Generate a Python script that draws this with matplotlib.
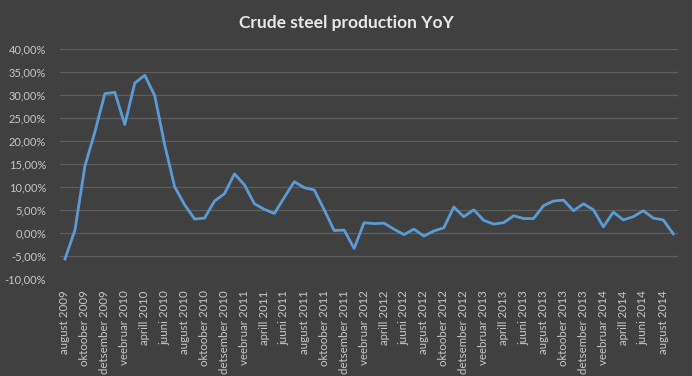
import matplotlib
matplotlib.use('Agg')
import matplotlib.pyplot as plt
import numpy as np

# monthly YoY change, august 2009 .. september 2014
months = ['jaanuar', 'veebruar', 'märts', 'aprill', 'mai', 'juuni',
          'juuli', 'august', 'september', 'oktoober', 'november', 'detsember']
start_month = 7  # august (0-based)
start_year = 2009

yoy = [-5.6, 0.7, 14.6, 22.0, 30.3, 30.6, 23.6, 32.6, 34.3, 29.9,
       19.2, 10.1, 6.2, 3.1, 3.3, 7.0, 8.6, 12.9, 10.5, 6.4,
       5.2, 4.3, 7.8, 11.2, 9.9, 9.4, 5.1, 0.6, 0.7, -3.3,
       2.3, 2.1, 2.2, 0.9, -0.3, 0.9, -0.6, 0.5, 1.2, 5.7,
       3.6, 5.1, 2.8, 2.0, 2.3, 3.8, 3.2, 3.2, 6.0, 7.0,
       7.2, 4.9, 6.4, 5.1, 1.4, 4.6, 2.9, 3.6, 4.9, 3.3,
       2.9, -0.1]

labels = []
for i in range(len(yoy)):
    m = (start_month + i) % 12
    y = start_year + (start_month + i) // 12
    labels.append(f'{months[m]} {y}')

bg = '#404040'
txt = '#c4c8cc'

plt.rcParams['font.family'] = ['Lato', 'DejaVu Sans']

fig = plt.figure(figsize=(6.92, 3.76), dpi=100, facecolor=bg)
ax = fig.add_axes([0.0867, 0.257, 0.8933, 0.6127], facecolor=bg)

x = np.arange(len(yoy))
ax.plot(x, yoy, color='#5b9bd5', linewidth=2.0, solid_joinstyle='round')

ax.set_xlim(-0.5, len(yoy) - 0.5)
ax.set_ylim(-10, 40)
yt = np.arange(-10, 41, 5)
ax.set_yticks(yt)
ax.set_yticklabels([f'{v:.2f}%'.replace('.', ',') for v in yt], color=txt, fontsize=8)
for v in yt[1:]:
    ax.axhline(v, color='#5e5e5e', linewidth=0.9, zorder=0)

ax.set_xticks(x[::2])
ax.set_xticklabels(labels[::2], rotation=90, color=txt, fontsize=8.3)

ax.tick_params(axis='both', length=0)
ax.tick_params(axis='y', pad=10)
ax.tick_params(axis='x', pad=8)
for s in ax.spines.values():
    s.set_visible(False)

fig.text(0.5, 0.94, 'Crude steel production YoY', ha='center', va='center',
         color='#e8e8e8', fontsize=12.5, fontweight='bold')

fig.savefig('out.png', dpi=100, facecolor=bg)
